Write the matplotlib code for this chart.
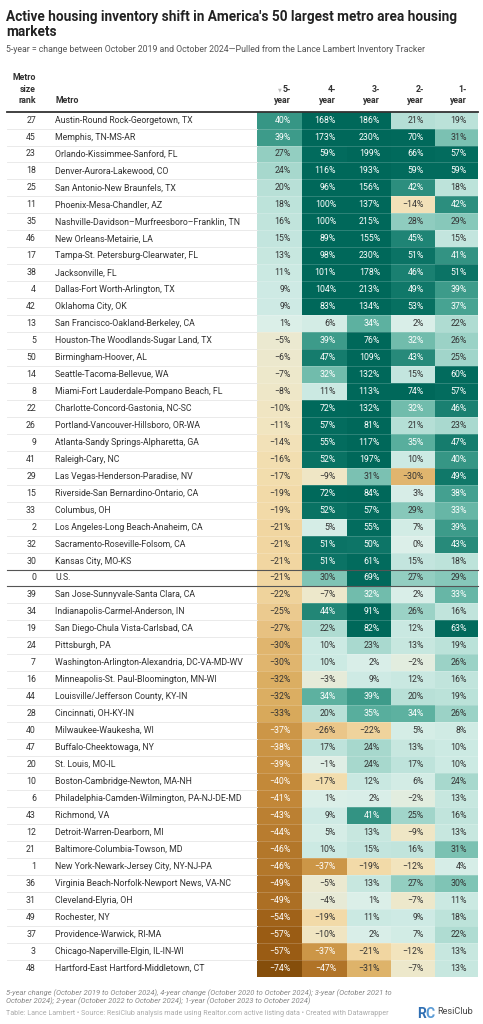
import numpy as np
import matplotlib

matplotlib.use("Agg")

import matplotlib.pyplot as plt
from matplotlib.colors import LinearSegmentedColormap, Normalize

plt.rcParams['font.family'] = ['Roboto', 'DejaVu Sans']

# ---- data ----
ranks = [27, 45, 23, 18, 25, 11, 35, 46, 17, 38, 4, 42, 13, 5, 50, 14, 8, 22, 26, 9,
         41, 29, 15, 33, 2, 32, 30, 0, 39, 34, 19, 24, 7, 16, 44, 28, 40, 47, 20, 10,
         6, 43, 12, 21, 1, 36, 31, 49, 37, 3, 48]
metros = [
    "Austin-Round Rock-Georgetown, TX",
    "Memphis, TN-MS-AR",
    "Orlando-Kissimmee-Sanford, FL",
    "Denver-Aurora-Lakewood, CO",
    "San Antonio-New Braunfels, TX",
    "Phoenix-Mesa-Chandler, AZ",
    "Nashville-Davidson\u2013Murfreesboro\u2013Franklin, TN",
    "New Orleans-Metairie, LA",
    "Tampa-St. Petersburg-Clearwater, FL",
    "Jacksonville, FL",
    "Dallas-Fort Worth-Arlington, TX",
    "Oklahoma City, OK",
    "San Francisco-Oakland-Berkeley, CA",
    "Houston-The Woodlands-Sugar Land, TX",
    "Birmingham-Hoover, AL",
    "Seattle-Tacoma-Bellevue, WA",
    "Miami-Fort Lauderdale-Pompano Beach, FL",
    "Charlotte-Concord-Gastonia, NC-SC",
    "Portland-Vancouver-Hillsboro, OR-WA",
    "Atlanta-Sandy Springs-Alpharetta, GA",
    "Raleigh-Cary, NC",
    "Las Vegas-Henderson-Paradise, NV",
    "Riverside-San Bernardino-Ontario, CA",
    "Columbus, OH",
    "Los Angeles-Long Beach-Anaheim, CA",
    "Sacramento-Roseville-Folsom, CA",
    "Kansas City, MO-KS",
    "U.S.",
    "San Jose-Sunnyvale-Santa Clara, CA",
    "Indianapolis-Carmel-Anderson, IN",
    "San Diego-Chula Vista-Carlsbad, CA",
    "Pittsburgh, PA",
    "Washington-Arlington-Alexandria, DC-VA-MD-WV",
    "Minneapolis-St. Paul-Bloomington, MN-WI",
    "Louisville/Jefferson County, KY-IN",
    "Cincinnati, OH-KY-IN",
    "Milwaukee-Waukesha, WI",
    "Buffalo-Cheektowaga, NY",
    "St. Louis, MO-IL",
    "Boston-Cambridge-Newton, MA-NH",
    "Philadelphia-Camden-Wilmington, PA-NJ-DE-MD",
    "Richmond, VA",
    "Detroit-Warren-Dearborn, MI",
    "Baltimore-Columbia-Towson, MD",
    "New York-Newark-Jersey City, NY-NJ-PA",
    "Virginia Beach-Norfolk-Newport News, VA-NC",
    "Cleveland-Elyria, OH",
    "Rochester, NY",
    "Providence-Warwick, RI-MA",
    "Chicago-Naperville-Elgin, IL-IN-WI",
    "Hartford-East Hartford-Middletown, CT",
]
year5 = [40, 39, 27, 24, 20, 18, 16, 15, 13, 11, 9, 9, 1, -5, -6, -7, -8, -10, -11, -14,
         -16, -17, -19, -19, -21, -21, -21, -21, -22, -25, -27, -30, -30, -32, -32, -33,
         -37, -38, -39, -40, -41, -43, -44, -46, -46, -49, -49, -54, -57, -57, -74]
year4 = [168, 173, 59, 116, 96, 100, 100, 89, 98, 101, 104, 83, 6, 39, 47, 32, 11, 72, 57, 55,
         52, -9, 72, 52, 5, 51, 51, 30, -7, 44, 22, 10, 10, -3, 34, 20,
         -26, 17, -1, -17, 1, 9, 5, 10, -37, -5, -4, -19, -10, -37, -47]
year3 = [186, 230, 199, 193, 156, 137, 215, 155, 230, 178, 213, 134, 34, 76, 109, 132, 113, 132, 81, 117,
         197, 31, 84, 57, 55, 50, 61, 69, 32, 91, 82, 23, 2, 9, 39, 35,
         -22, 24, 24, 12, 2, 41, 13, 15, -19, 13, 1, 11, 2, -21, -31]
year2 = [21, 70, 66, 59, 42, -14, 28, 45, 51, 46, 49, 53, 2, 32, 43, 15, 74, 32, 21, 35,
         10, -30, 3, 29, 7, 0, 15, 27, 2, 26, 12, 13, -2, 12, 20, 34,
         5, 13, 17, 6, -2, 25, -9, 16, -12, 27, -7, 9, 7, -12, -7]
year1 = [19, 31, 57, 59, 18, 42, 29, 15, 41, 51, 39, 37, 22, 26, 25, 60, 57, 46, 23, 47,
         40, 49, 38, 33, 39, 43, 18, 29, 33, 16, 63, 19, 26, 16, 19, 26,
         8, 10, 10, 24, 13, 16, 13, 31, 4, 30, 11, 18, 22, 13, 13]
col_heads = [("5-", "year"), ("4-", "year"), ("3-", "year"), ("2-", "year"), ("1-", "year")]

values = np.array([year5, year4, year3, year2, year1]).T
n_rows = len(metros)
us_row = metros.index("U.S.")

# ---- layout (pixels) ----
W, H = 483, 1024
left, right = 7, 478
col_edges = np.array([257, 302, 347, 391, 435, 478])
top = 111.6
row_h = 16.96
row_edges = top + np.arange(n_rows + 1) * row_h

dark = "#333333"
fs = 6.3

stops = [(-75, "#844e0b"), (-57, "#9a5c14"), (-47, "#b17428"), (-40, "#c48a3a"),
         (-33, "#d9aa5c"), (-26, "#eac78a"), (-20, "#f2d9a5"), (-12, "#f2e4bd"),
         (-5, "#ebe9d0"), (0, "#dcefe9"), (10, "#cdeae3"), (20, "#b9e1d8"),
         (26, "#9cd3c7"), (31, "#7ac1b2"), (36, "#4fa998"), (42, "#2c8e7e"),
         (48, "#127a6b"), (55, "#036c5e"), (75, "#00685a")]
vmin, vmax = -75, 75
cmap = LinearSegmentedColormap.from_list(
    "inv", [((v - vmin) / (vmax - vmin), c) for v, c in stops])
norm = Normalize(vmin, vmax, clip=True)

fig = plt.figure(figsize=(W / 100, H / 100), dpi=100)
ax = fig.add_axes([0, 0, 1, 1])
ax.set_xlim(0, W)
ax.set_ylim(H, 0)
ax.axis("off")

# title / subtitle
ax.text(6, 20.5, "Active housing inventory shift in America's 50 largest metro area housing",
        fontsize=9.85, fontweight="bold", color="#222222", va="baseline")
ax.text(6, 35.5, "markets", fontsize=9.85, fontweight="bold", color="#222222", va="baseline")
ax.text(6, 51.5, "5-year = change between October 2019 and October 2024\u2014Pulled from the Lance Lambert Inventory Tracker",
        fontsize=6.35, color="#555555", va="baseline")

# header
for i, word in enumerate(["Metro", "size", "rank"]):
    ax.text(36, 80 + i * 11.5, word, fontsize=fs, fontweight="bold", color=dark,
            ha="right", va="baseline")
ax.text(55, 103, "Metro", fontsize=fs, fontweight="bold", color=dark, va="baseline")
for j, (a, b) in enumerate(col_heads):
    xr = col_edges[j + 1] - 11
    ax.text(xr, 91.5, a, fontsize=fs, fontweight="bold", color=dark, ha="right", va="baseline")
    ax.text(xr, 103, b, fontsize=fs, fontweight="bold", color=dark, ha="right", va="baseline")
ax.text(col_edges[1] - 20, 91, "\u25bc", fontsize=3.5, color="#bbbbbb", ha="right",
        va="baseline", family=["DejaVu Sans"])

# heat cells
ax.pcolormesh(col_edges, row_edges, values, cmap=cmap, norm=norm, shading="flat")

# row separators
for y in row_edges[1:-1]:
    ax.plot([left, col_edges[0]], [y, y], color="#e6e6e6", lw=0.6)
    ax.plot([col_edges[0], right], [y, y], color="white", lw=0.5, alpha=0.25)

ax.plot([left, right], [row_edges[0], row_edges[0]], color="#333333", lw=1.3)
for y in (row_edges[us_row], row_edges[us_row + 1]):
    ax.plot([left, right], [y, y], color="#555555", lw=0.8)

# row text
for i in range(n_rows):
    yc = (row_edges[i] + row_edges[i + 1]) / 2
    ax.text(36, yc, str(ranks[i]), fontsize=fs, color=dark, ha="right", va="center")
    ax.text(55, yc, metros[i], fontsize=fs, color=dark, va="center")
    for j in range(5):
        v = values[i, j]
        tc = "white" if (v >= 32 or v <= -35) else dark
        lab = f"{v}%".replace("-", "\u2212")
        ax.text(col_edges[j + 1] - 11, yc, lab, fontsize=fs, color=tc, ha="right", va="center")

# footer
ax.text(6, 995.5, "5-year change (October 2019 to October 2024), 4-year change (October 2020 to October 2024); 3-year (October 2021 to",
        fontsize=5.4, style="italic", color="#888888", va="baseline")
ax.text(6, 1003.5, "October 2024); 2-year (October 2022 to October 2024); 1-year (October 2023 to October 2024)",
        fontsize=5.4, style="italic", color="#888888", va="baseline")
ax.text(6, 1015, "Table: Lance Lambert \u2022 Source: ResiClub analysis made using Realtor.com active listing data \u2022 Created with Datawrapper",
        fontsize=5.1, color="#aaaaaa", va="baseline")

# logo
ax.text(417, 1018, "R", fontsize=10, fontweight="bold", color="#2f6fb3", va="baseline")
ax.text(425, 1018, "C", fontsize=10, fontweight="bold", color="#5b9bd5", va="baseline")
ax.text(437, 1014.5, "ResiClub", fontsize=6.6, color="#444444", va="baseline")

fig.savefig("out.png", dpi=100)
